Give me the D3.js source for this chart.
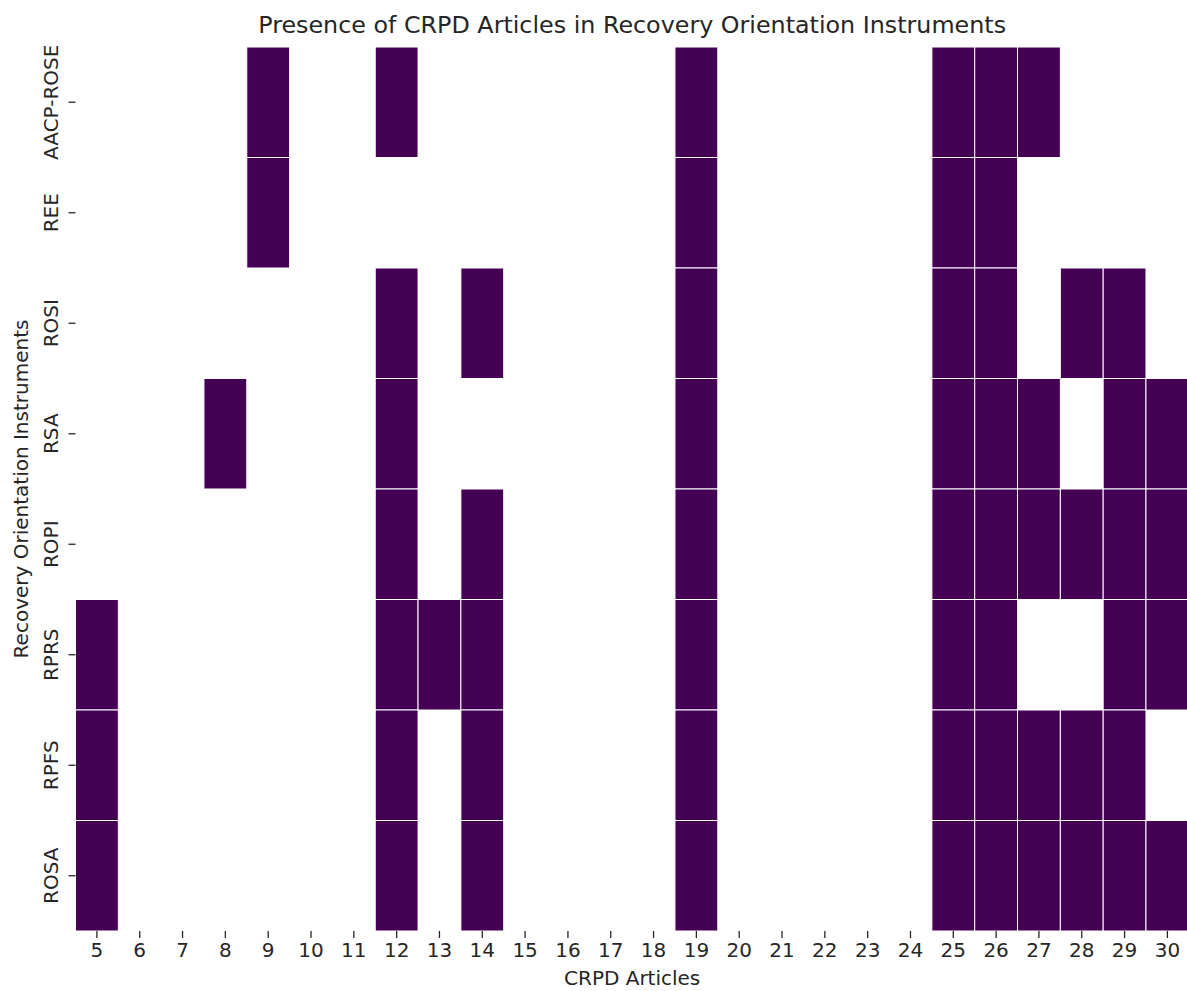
<!DOCTYPE html>
<html>
<head>
<meta charset="utf-8">
<title>Presence of CRPD Articles</title>
<script src="https://cdn.jsdelivr.net/npm/d3@7"></script>
<style>
  body { margin: 0; background: #fff; }
  text { font-family: "DejaVu Sans", sans-serif; fill: #262626; }
</style>
</head>
<body>
<svg id="chart" width="1187" height="991"></svg>
<script>
// instruments (rows, top to bottom) and CRPD articles (columns)
const instruments = ["AACP-ROSE", "REE", "ROSI", "RSA", "ROPI", "RPRS", "RPFS", "ROSA"];
const articles = d3.range(5, 31);

// which articles each instrument contains
const presentAACP = [9, 12, 19, 25, 26, 27];
const presentREE  = [9, 19, 25, 26];
const presentROSI = [12, 14, 19, 25, 26, 28, 29];
const presentRSA  = [8, 12, 19, 25, 26, 27, 29, 30];
const presentROPI = [12, 14, 19, 25, 26, 27, 28, 29, 30];
const presentRPRS = [5, 12, 13, 14, 19, 25, 26, 29, 30];
const presentRPFS = [5, 12, 14, 19, 25, 26, 27, 28, 29];
const presentROSA = [5, 12, 14, 19, 25, 26, 27, 28, 29, 30];

const presence = [presentAACP, presentREE, presentROSI, presentRSA,
                  presentROPI, presentRPRS, presentRPFS, presentROSA];

const cells = [];
instruments.forEach((inst, i) => {
  articles.forEach(a => {
    cells.push({ inst, art: a, v: presence[i].includes(a) ? 1 : 0 });
  });
});

const margin = { top: 47, left: 75.5, right: -1.8, bottom: 60 };
const W = 1187, H = 991;
const fs = "20px";
const svg = d3.select("#chart");

const x = d3.scaleBand()
  .domain(articles)
  .range([margin.left, W - margin.right]);

const y = d3.scaleBand()
  .domain(instruments)
  .range([margin.top, 931]);

const color = d3.scaleOrdinal([0, 1], ["#ffffff", "#440154"]);

svg.append("g")
  .selectAll("rect")
  .data(cells.filter(d => d.v === 1))
  .join("rect")
  .attr("x", d => x(d.art))
  .attr("y", d => y(d.inst))
  .attr("width", x.bandwidth())
  .attr("height", y.bandwidth())
  .attr("fill", d => color(d.v))
  .attr("stroke", "#ffffff")
  .attr("stroke-width", 1);

// x axis
svg.append("g")
  .attr("transform", "translate(0,931)")
  .call(d3.axisBottom(x).tickSize(7).tickPadding(5))
  .call(g => g.select(".domain").remove())
  .call(g => g.selectAll(".tick line").attr("stroke", "#262626").attr("stroke-width", 1.3))
  .call(g => g.selectAll(".tick text")
    .attr("font-size", fs)
    .attr("font-family", "DejaVu Sans, sans-serif")
    .attr("fill", "#262626"));

// y axis
svg.append("g")
  .attr("transform", `translate(${margin.left},0)`)
  .call(d3.axisLeft(y).tickSize(7).tickPadding(0))
  .call(g => g.select(".domain").remove())
  .call(g => g.selectAll(".tick line").attr("stroke", "#262626").attr("stroke-width", 1.3))
  .call(g => g.selectAll(".tick text")
    .attr("font-size", fs)
    .attr("font-family", "DejaVu Sans, sans-serif")
    .attr("fill", "#262626")
    .attr("x", 0)
    .attr("dy", null)
    .attr("text-anchor", "middle")
    .attr("transform", "translate(-17.5,0) rotate(-90)"));

// title and axis labels
svg.append("text")
  .attr("x", (margin.left + W - margin.right) / 2)
  .attr("y", 33)
  .attr("text-anchor", "middle")
  .attr("font-size", "23.8px")
  .text("Presence of CRPD Articles in Recovery Orientation Instruments");

svg.append("text")
  .attr("x", (margin.left + W - margin.right) / 2)
  .attr("y", 985)
  .attr("text-anchor", "middle")
  .attr("font-size", fs)
  .text("CRPD Articles");

svg.append("text")
  .attr("transform", `translate(28,${(47 + 931) / 2}) rotate(-90)`)
  .attr("text-anchor", "middle")
  .attr("font-size", fs)
  .text("Recovery Orientation Instruments");
</script>
</body>
</html>
